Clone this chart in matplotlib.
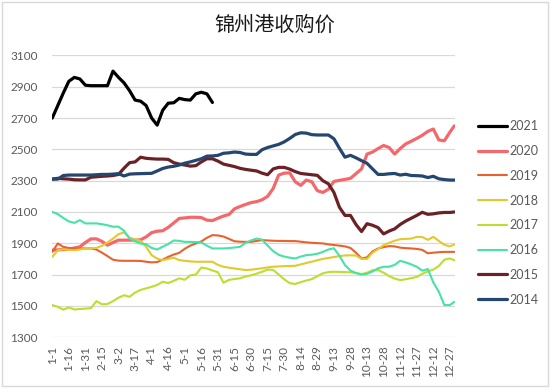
import matplotlib
matplotlib.use("Agg")
import matplotlib.pyplot as plt
from matplotlib.patches import Rectangle

# day index (0 = 1-1), sampled every 5 days, last point at 12-31
days = list(range(0, 361, 5)) + [364]

tick_days = list(range(0, 361, 15))
tick_labels = ["1-1", "1-16", "1-31", "2-15", "3-2", "3-17", "4-1", "4-16", "5-1",
               "5-16", "5-31", "6-15", "6-30", "7-15", "7-30", "8-14", "8-29",
               "9-13", "9-28", "10-13", "10-28", "11-12", "11-27", "12-12", "12-27"]

price_2021 = [2700, 2780, 2860, 2935, 2960, 2950, 2910, 2907, 2907, 2907,
              2907, 3000, 2960, 2925, 2875, 2815, 2808, 2780, 2700, 2655,
              2750, 2795, 2798, 2826, 2818, 2815, 2855, 2865, 2855, 2800]

price_2020 = [1856, 1858, 1860, 1863, 1870, 1877, 1905, 1928, 1928, 1912,
              1888, 1905, 1920, 1920, 1920, 1920, 1922, 1941, 1968, 1977,
              1980, 2002, 2030, 2059, 2062, 2066, 2066, 2064, 2048, 2045,
              2060, 2074, 2084, 2120, 2135, 2148, 2160, 2166, 2178, 2200,
              2250, 2336, 2348, 2350, 2293, 2270, 2304, 2293, 2236, 2225,
              2245, 2295, 2302, 2308, 2315, 2345, 2375, 2470, 2483, 2505,
              2525, 2512, 2470, 2505, 2535, 2552, 2570, 2590, 2615, 2630,
              2560, 2555, 2610, 2650]

price_2019 = [1845, 1899, 1877, 1870, 1867, 1867, 1867, 1867, 1860, 1840,
              1818, 1795, 1789, 1788, 1788, 1788, 1787, 1782, 1778, 1780,
              1795, 1813, 1828, 1839, 1865, 1885, 1899, 1912, 1935, 1952,
              1950, 1943, 1928, 1913, 1910, 1909, 1909, 1915, 1920, 1918,
              1916, 1915, 1915, 1914, 1914, 1910, 1906, 1903, 1901, 1899,
              1893, 1889, 1885, 1880, 1870, 1840, 1803, 1810, 1848, 1867,
              1875, 1882, 1880, 1872, 1869, 1867, 1864, 1858, 1836, 1840,
              1843, 1845, 1845, 1845]

price_2018 = [1813, 1855, 1862, 1858, 1856, 1860, 1866, 1868, 1870, 1884,
              1905, 1930, 1958, 1970, 1935, 1925, 1915, 1877, 1824, 1802,
              1792, 1800, 1808, 1792, 1788, 1784, 1782, 1782, 1782, 1782,
              1762, 1750, 1744, 1739, 1734, 1729, 1731, 1736, 1740, 1746,
              1750, 1752, 1754, 1755, 1756, 1765, 1774, 1782, 1792, 1800,
              1806, 1812, 1818, 1822, 1823, 1822, 1800, 1800, 1840, 1863,
              1888, 1903, 1916, 1926, 1928, 1930, 1941, 1940, 1922, 1941,
              1915, 1890, 1880, 1893]

price_2017 = [1505, 1494, 1476, 1490, 1477, 1480, 1482, 1486, 1530, 1510,
              1512, 1530, 1552, 1568, 1558, 1585, 1602, 1612, 1622, 1634,
              1654, 1646, 1660, 1676, 1667, 1695, 1700, 1745, 1739, 1726,
              1715, 1648, 1666, 1672, 1676, 1688, 1695, 1706, 1718, 1732,
              1730, 1700, 1670, 1645, 1640, 1652, 1662, 1671, 1690, 1708,
              1716, 1718, 1717, 1716, 1714, 1710, 1703, 1712, 1728, 1728,
              1712, 1690, 1674, 1665, 1670, 1677, 1685, 1705, 1720, 1732,
              1755, 1795, 1803, 1792]

price_2016 = [2101, 2086, 2062, 2040, 2030, 2048, 2027, 2027, 2027, 2022,
              2015, 2006, 2006, 1980, 1930, 1912, 1898, 1894, 1870, 1860,
              1878, 1895, 1918, 1915, 1909, 1909, 1908, 1905, 1885, 1867,
              1867, 1867, 1869, 1873, 1877, 1903, 1918, 1930, 1923, 1885,
              1850, 1826, 1815, 1808, 1803, 1815, 1824, 1827, 1833, 1845,
              1860, 1868, 1820, 1761, 1725, 1710, 1700, 1705, 1720, 1740,
              1750, 1750, 1762, 1788, 1778, 1765, 1750, 1725, 1735, 1650,
              1590, 1505, 1505, 1526]

price_2015 = [2310, 2315, 2312, 2310, 2306, 2305, 2305, 2322, 2325, 2328,
              2330, 2333, 2340, 2380, 2415, 2420, 2450, 2443, 2440, 2438,
              2438, 2436, 2415, 2406, 2400, 2393, 2396, 2420, 2440, 2440,
              2425, 2406, 2398, 2390, 2379, 2372, 2367, 2362, 2348, 2338,
              2375, 2385, 2385, 2374, 2358, 2346, 2342, 2338, 2334, 2300,
              2280, 2225, 2130, 2078, 2078, 2020, 1975, 2025, 2015, 2000,
              1960, 1978, 1992, 2020, 2042, 2060, 2078, 2098, 2085, 2088,
              2094, 2097, 2097, 2100]

price_2014 = [2310, 2310, 2333, 2336, 2336, 2336, 2336, 2336, 2338, 2340,
              2340, 2342, 2345, 2330, 2342, 2344, 2345, 2346, 2347, 2362,
              2378, 2387, 2392, 2400, 2412, 2420, 2430, 2440, 2457, 2458,
              2462, 2475, 2478, 2483, 2480, 2470, 2468, 2468, 2498, 2512,
              2522, 2532, 2548, 2570, 2595, 2606, 2604, 2594, 2592, 2592,
              2592, 2568, 2507, 2450, 2462, 2446, 2428, 2411, 2375, 2340,
              2340, 2344, 2346, 2336, 2341, 2333, 2332, 2330, 2320, 2328,
              2312, 2307, 2304, 2304]

series = [
    ("2021", price_2021, "#000000", 2.3),
    ("2020", price_2020, "#F4686B", 2.3),
    ("2019", price_2019, "#E9622E", 1.5),
    ("2018", price_2018, "#E3C82E", 1.5),
    ("2017", price_2017, "#BADF2E", 1.5),
    ("2016", price_2016, "#46E2A6", 1.5),
    ("2015", price_2015, "#6B2226", 2.3),
    ("2014", price_2014, "#24466F", 2.3),
]

plt.rcParams['font.family'] = ['Lato', 'DejaVu Sans']

fig = plt.figure(figsize=(5.5, 3.88), dpi=100)
ax = fig.add_axes([0.094, 0.131, 0.733, 0.726])

for name, vals, color, lw in series:
    ax.plot(days[:len(vals)], vals, color=color, lw=lw, label=name,
            solid_joinstyle="round", solid_capstyle="round")

ax.set_xlim(-0.5, 364.5)
ax.set_ylim(1300, 3100)
ax.set_yticks(range(1300, 3101, 200))
ax.set_xticks(tick_days)
ax.set_xticklabels(tick_labels, rotation=90)
ax.tick_params(axis="both", length=0, labelsize=8.5, labelcolor="#595959")
ax.tick_params(axis="y", pad=10)
ax.tick_params(axis="x", pad=6)
ax.grid(axis="y", color="#D9D9D9", lw=0.9)
ax.set_axisbelow(True)
for s in ax.spines.values():
    s.set_visible(False)

leg = ax.legend(loc="upper left", bbox_to_anchor=(1.03, 0.81), frameon=False,
                handlelength=2.3, handletextpad=0.2, labelspacing=1.02,
                fontsize=9)
for t in leg.get_texts():
    t.set_color("#595959")

fig.text(0.5, 0.936, "锦州港收购价", ha="center", va="center", fontsize=14.5,
         color="#1A1A1A", family=["Noto Sans CJK SC", "DejaVu Sans"])

fig.patches.append(Rectangle((0.003, 0.004), 0.994, 0.992, transform=fig.transFigure,
                             fill=False, edgecolor="#D9D9D9", lw=1))

fig.savefig("out.png", dpi=100)
